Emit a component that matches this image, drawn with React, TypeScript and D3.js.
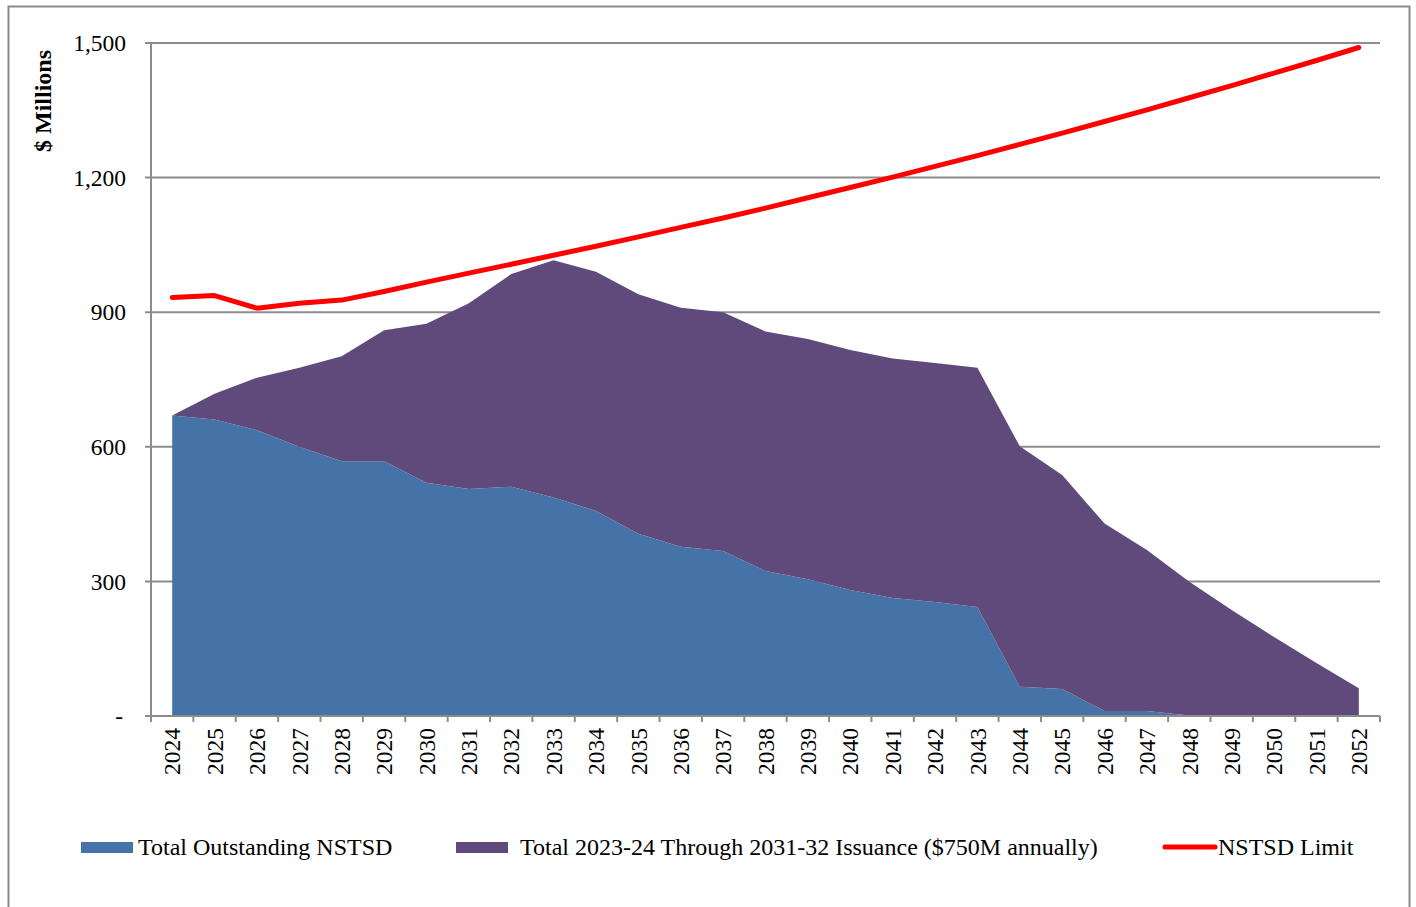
import React from "react";
import * as d3 from "d3";

const years: number[] = [2024, 2025, 2026, 2027, 2028, 2029, 2030, 2031, 2032, 2033, 2034, 2035, 2036, 2037, 2038, 2039, 2040, 2041, 2042, 2043, 2044, 2045, 2046, 2047, 2048, 2049, 2050, 2051, 2052];
const outstanding: number[] = [670, 661, 637, 600, 568, 568, 520, 506, 511, 487, 457, 406, 377, 368, 323, 305, 281, 263, 254, 243, 65, 60, 11, 11, 1, 0, 0, 0, 0];
const totalWithIssuance: number[] = [670, 718, 754, 776, 802, 860, 874, 920, 985, 1016, 990, 940, 910, 900, 857, 840, 816, 797, 787, 776, 601, 537, 429, 370, 299, 236, 176, 118, 62];
const limit: number[] = [933, 937, 909, 920, 927, 946, 967, 987, 1007, 1027, 1047, 1068, 1089, 1110, 1132, 1155, 1178, 1201, 1225, 1249, 1274, 1299, 1325, 1351, 1378, 1405, 1433, 1461, 1490];
const yTicks: number[] = [0, 300, 600, 900, 1200, 1500];
const legendLabels: string[] = ["Total Outstanding NSTSD", "Total 2023-24 Through 2031-32 Issuance ($750M annually)", "NSTSD Limit"];

const BLUE = "#4572A7";
const PURPLE = "#604A7B";
const RED = "#FF0000";
const GRID = "#8C8C8C";
const FONT = "'Liberation Serif', 'Times New Roman', serif";

export default function App() {
  const left = 151, right = 1380, top = 43, bottom = 716;
  const x = d3.scaleBand<number>().domain(years).range([left, right]).padding(0);
  const cx = (yr: number) => (x(yr) as number) + x.bandwidth() / 2;
  const y = d3.scaleLinear().domain([0, 1500]).range([bottom, top]);

  const idx = years.map((_, i) => i);
  const blueArea = d3.area<number>()
    .x((i) => cx(years[i]))
    .y0(() => y(0))
    .y1((i) => y(outstanding[i]))(idx) as string;
  const purpleArea = d3.area<number>()
    .x((i) => cx(years[i]))
    .y0((i) => y(outstanding[i]))
    .y1((i) => y(totalWithIssuance[i]))(idx) as string;
  const limitLine = d3.line<number>()
    .x((i) => cx(years[i]))
    .y((i) => y(limit[i]))(idx) as string;

  const boundaries = years.map((yr) => x(yr) as number).concat([right]);

  return (
    <svg width={1416} height={907} style={{ position: "absolute", left: 0, top: 0, background: "#fff" }} fontFamily={FONT}>
      <rect x={8.5} y={6.5} width={1401} height={920} fill="#fff" stroke="#8A8A8A" strokeWidth={2} />
      {yTicks.filter((t) => t > 0).map((t) => (
        <line key={"g" + t} x1={left - 6} x2={right} y1={y(t)} y2={y(t)} stroke={GRID} strokeWidth={2} />
      ))}
      <path d={blueArea} fill={BLUE} />
      <path d={purpleArea} fill={PURPLE} />
      <line x1={left} x2={left} y1={top} y2={bottom} stroke={GRID} strokeWidth={2} />
      <line x1={left - 6} x2={right} y1={bottom} y2={bottom} stroke={GRID} strokeWidth={2} />
      {boundaries.map((b, i) => (
        <line key={"t" + i} x1={b} x2={b} y1={bottom} y2={bottom + 6} stroke={GRID} strokeWidth={2} />
      ))}
      <path d={limitLine} fill="none" stroke={RED} strokeWidth={5} strokeLinejoin="round" strokeLinecap="round" />
      {yTicks.map((t) => (
        <text key={"yl" + t} x={t === 0 ? 123 : 126} y={y(t)} dy="0.35em" textAnchor="end" fontSize={23.5} fill="#000">
          {t === 0 ? "-" : d3.format(",")(t)}
        </text>
      ))}
      <text transform={`translate(51,101) rotate(-90)`} textAnchor="middle" fontSize={24} fontWeight="bold" fill="#000">$ Millions</text>
      {years.map((yr) => (
        <text key={"xl" + yr} transform={`translate(${cx(yr)},728) rotate(-90)`} textAnchor="end" dy="0.35em" fontSize={23.5} fill="#000">{yr}</text>
      ))}
      <rect x={81} y={842} width={52} height={11} fill={BLUE} />
      <text x={138} y={855} fontSize={24} fill="#000">{legendLabels[0]}</text>
      <rect x={456} y={842} width={52} height={11} fill={PURPLE} />
      <text x={520} y={855} fontSize={24} fill="#000">{legendLabels[1]}</text>
      <line x1={1165} x2={1215} y1={847} y2={847} stroke={RED} strokeWidth={5} strokeLinecap="round" />
      <text x={1218} y={855} fontSize={24} fill="#000">{legendLabels[2]}</text>
    </svg>
  );
}
